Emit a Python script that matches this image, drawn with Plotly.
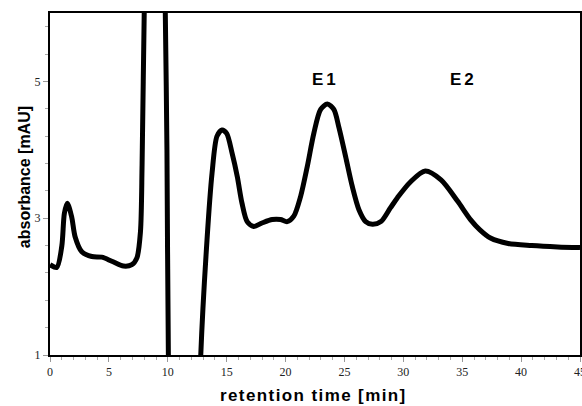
import plotly.graph_objects as go

time_min = [0.0, 0.57, 1.0, 1.22, 1.47, 1.84, 2.13, 2.7, 3.55, 4.4, 5.25, 6.24, 6.95, 7.38,
            7.68, 7.82, 8.0, 8.3, 8.8, 9.3, 9.6, 9.79, 9.93, 10.05, 10.3, 11.5, 12.5,
            12.8, 13.33, 13.76, 14.18, 14.6, 15.0, 15.46, 15.9, 16.3, 16.74, 17.3, 18.0,
            18.87, 19.57, 20.14, 20.7, 21.28, 21.85, 22.4, 22.98, 23.55, 24.1, 24.54,
            25.1, 25.67, 26.24, 26.8, 27.38, 28.1, 28.9, 29.5, 30.6, 31.86, 33.2, 34.6,
            35.7, 36.5, 37.4, 38.9, 40.9, 43.1, 45.0]
absorbance = [2.32, 2.28, 2.59, 3.07, 3.22, 3.02, 2.73, 2.51, 2.44, 2.43, 2.37, 2.30, 2.32, 2.42,
              2.8, 3.8, 6.0, 8.5, 10.5, 10.0, 8.0, 6.0, 4.0, 1.0, -1.0, -1.5, -1.0,
              1.0, 2.68, 3.66, 4.2, 4.29, 4.24, 3.95, 3.61, 3.22, 2.95, 2.88, 2.93,
              2.98, 2.98, 2.95, 3.03, 3.32, 3.76, 4.24, 4.59, 4.67, 4.59, 4.32,
              3.9, 3.46, 3.12, 2.95, 2.91, 2.95, 3.15, 3.3, 3.53, 3.69, 3.56, 3.25,
              2.98, 2.83, 2.71, 2.63, 2.6, 2.58, 2.57]

peak_labels = ["E1", "E2"]
peak_label_x = [23.36, 35.1]
peak_label_y = [5.03, 5.03]

x_title = "retention time [min]"
y_title = "absorbance [mAU]"

fig = go.Figure()
fig.add_trace(go.Scatter(
    x=time_min, y=absorbance, mode="lines",
    line=dict(color="black", width=5, shape="spline", smoothing=0.8),
    showlegend=False, hoverinfo="skip"))

for lbl, lx, ly in zip(peak_labels, peak_label_x, peak_label_y):
    fig.add_annotation(
        x=lx, y=ly, xref="x", yref="y", showarrow=False,
        text=f"<span style='letter-spacing:3px'>{lbl}</span>",
        font=dict(family="Liberation Sans", size=17, color="black", weight="bold"),
        xanchor="center", yanchor="middle")

fig.add_annotation(
    x=0.498, y=-0.117, xref="paper", yref="paper", showarrow=False,
    text=f"<span style='letter-spacing:1.4px'>{x_title}</span>",
    font=dict(family="Liberation Sans", size=17, color="black", weight="bold"),
    xanchor="center", yanchor="middle")

fig.add_annotation(
    x=-0.049, y=0.52, xref="paper", yref="paper", showarrow=False,
    text=y_title, textangle=-90,
    font=dict(family="Liberation Sans", size=16, color="black", weight="bold"),
    xanchor="center", yanchor="middle")

fig.update_layout(
    width=582, height=406,
    margin=dict(l=50, r=2, t=13, b=51),
    paper_bgcolor="white", plot_bgcolor="white",
    font=dict(family="Liberation Serif", size=12, color="#222"),
    xaxis=dict(
        range=[0, 45], tickmode="linear", tick0=0, dtick=5,
        ticks="outside", ticklen=5, tickcolor="#999", tickwidth=1,
        minor=dict(dtick=1, tick0=0, ticks="outside", ticklen=3, tickcolor="#aaa"),
        showline=True, linecolor="black", linewidth=2, mirror=True,
        showgrid=False, zeroline=False, automargin=False,
        ticklabeloverflow="allow",
        tickfont=dict(family="Liberation Serif", size=12, color="#222"),
    ),
    yaxis=dict(
        range=[1, 6], tickmode="array", tickvals=[1, 3, 5],
        ticks="outside", ticklen=5, tickcolor="#999", tickwidth=1,
        minor=dict(dtick=0.4, tick0=1, ticks="outside", ticklen=3, tickcolor="#aaa"),
        showline=True, linecolor="black", linewidth=2, mirror=True,
        showgrid=False, zeroline=False, automargin=False,
        tickfont=dict(family="Liberation Serif", size=12, color="#222"),
    ),
)

fig.write_html("out.html",
               config={"displayModeBar": False},
               post_script="document.body.style.margin='0';document.body.style.overflow='hidden';")
